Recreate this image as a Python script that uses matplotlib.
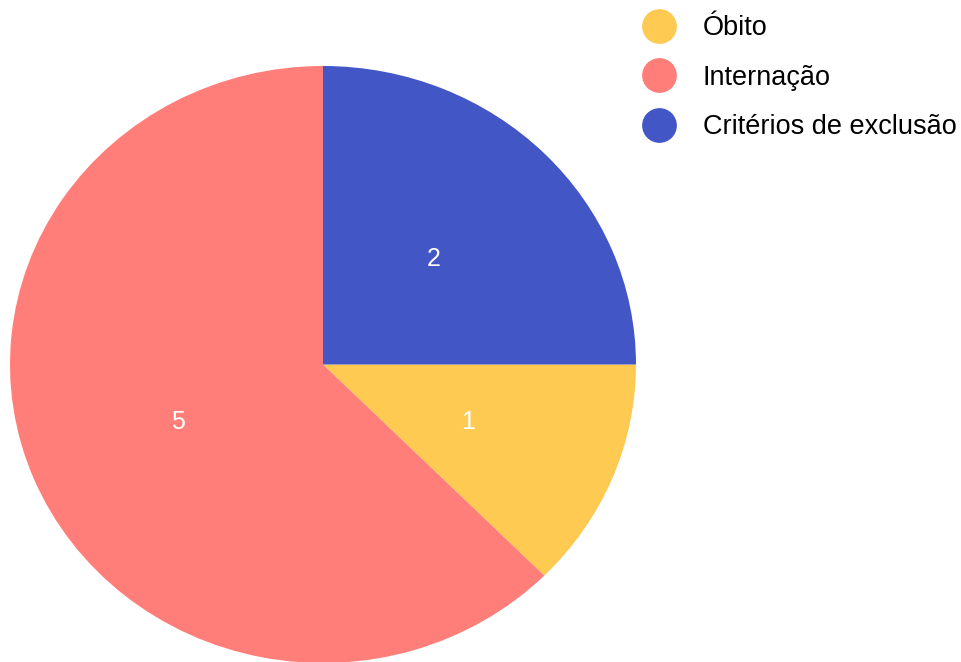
import matplotlib
matplotlib.use("Agg")
import matplotlib.pyplot as plt
from matplotlib.lines import Line2D

plt.rcParams['font.family'] = ['Liberation Sans', 'DejaVu Sans']

categories = ["Óbito", "Internação", "Critérios de exclusão"]
values = [1, 5, 2]
colors = ["#FECA51", "#FF7E79", "#4257C5"]

fig = plt.figure(figsize=(9.61, 6.62), dpi=100)
ax = fig.add_axes([10/961, (662-663)/662, 626/961, 597/662])
wedges, texts = ax.pie(values, colors=colors, startangle=0, counterclock=False,
                       labels=[str(v) for v in values], labeldistance=0.5,
                       textprops=dict(color='white', fontsize=18),
                       wedgeprops=dict(linewidth=0))
for t in texts:
    t.set_ha('center'); t.set_va('center')
ax.set_aspect('auto')
ax.set_xlim(-1, 1)
ax.set_ylim(-1, 1)
ax.axis('off')

handles = [Line2D([0], [0], marker='o', linestyle='none', markersize=24,
                  markerfacecolor=c, markeredgecolor=c) for c in colors]
fig.legend(handles, categories, loc='upper left', bbox_to_anchor=(635/961, 1 - 7/662),
           frameon=False, fontsize=19.5, labelspacing=0.87, handletextpad=1.0,
           handlelength=1.2, borderaxespad=0, borderpad=0.3)

fig.savefig("out.png", dpi=100)
